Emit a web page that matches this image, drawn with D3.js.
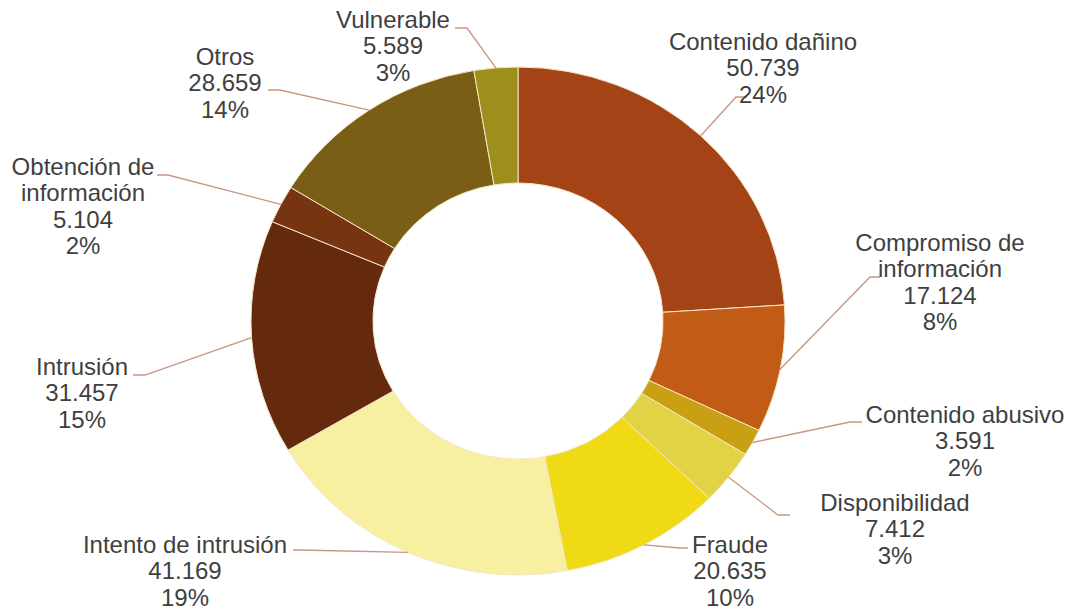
<!DOCTYPE html>
<html><head><meta charset="utf-8">
<script src="https://cdn.jsdelivr.net/npm/d3@7"></script>
<style>html,body{margin:0;padding:0;background:#fff}svg{display:block}</style>
</head><body>
<svg id="chart" width="1072" height="610"></svg>
<script>
// ---- data ----
const categories = ["Contenido dañino","Compromiso de información","Contenido abusivo","Disponibilidad","Fraude","Intento de intrusión","Intrusión","Obtención de información","Otros","Vulnerable"];
const labelLines = [["Contenido dañino"],["Compromiso de","información"],["Contenido abusivo"],["Disponibilidad"],["Fraude"],["Intento de intrusión"],["Intrusión"],["Obtención de","información"],["Otros"],["Vulnerable"]];
const values = [50739,17124,3591,7412,20635,41169,31457,5104,28659,5589];
const pctLabels = ["24%","8%","2%","3%","10%","19%","15%","2%","14%","3%"];
const colors = ["#A34316","#C25B16","#C9A013","#E2D246","#F0D915","#F7F0A1","#65290E","#773411","#7A5E16","#9C8F1C"];

// ---- layout (label text anchor = centre x, first baseline y; leader bend and end) ----
const labelLayout = [
  {x:763, y:50,  bend:[736,97],  end:[747,97]},
  {x:940, y:251, bend:[870,277], end:[880,277]},
  {x:965, y:423, bend:[850,422], end:[862,422]},
  {x:895, y:511, bend:[778,515], end:[790,515]},
  {x:730, y:553, bend:[680,548], end:[688,548]},
  {x:185, y:553, bend:[300,550], end:[293,550]},
  {x:82,  y:375, bend:[145,375], end:[133,375]},
  {x:83,  y:175, bend:[168,175], end:[157,175]},
  {x:225, y:65,  bend:[280,90],  end:[268,90]},
  {x:393, y:28,  bend:[467,28],  end:[455,28]}
];

const cx = 518, cy = 321, rOuter = 254, rInner = 138, sx = 267/254;
const fmt = d3.formatLocale({decimal:",", thousands:".", grouping:[3], currency:["","€"]}).format(",d");

const svg = d3.select("#chart");
const pie = d3.pie().sort(null).value(d => d)(values);
const arc = d3.arc().innerRadius(rInner).outerRadius(rOuter);

const g = svg.append("g").attr("transform", `translate(${cx},${cy}) scale(${sx},1)`);
g.selectAll("path").data(pie).join("path")
  .attr("d", arc)
  .attr("fill", (d,i) => colors[i])
  .attr("stroke", "#f4e6c6")
  .attr("stroke-width", 1)
  .attr("vector-effect", "non-scaling-stroke");

// leader lines
const lines = svg.append("g");
pie.forEach((d,i) => {
  const a = (d.startAngle + d.endAngle)/2;
  const x0 = cx + rOuter*sx*Math.sin(a), y0 = cy - rOuter*Math.cos(a);
  const L = labelLayout[i];
  lines.append("polyline")
    .attr("points", [[x0,y0],L.bend,L.end].map(p=>p.join(",")).join(" "))
    .attr("fill","none").attr("stroke","#C99580").attr("stroke-width",1.3);
});

// labels
const lg = svg.append("g")
  .attr("font-family","'Liberation Sans', Arial, sans-serif")
  .attr("font-size",24).attr("fill","#3f3f3f").attr("text-anchor","middle");
categories.forEach((c,i) => {
  const L = labelLayout[i];
  const t = lg.append("text").attr("x",L.x).attr("y",L.y);
  const all = labelLines[i].concat([fmt(values[i]), pctLabels[i]]);
  all.forEach((s,k) => {
    t.append("tspan").attr("x",L.x).attr("dy", k===0 ? 0 : 26.3).text(s);
  });
});
</script>
</body></html>
